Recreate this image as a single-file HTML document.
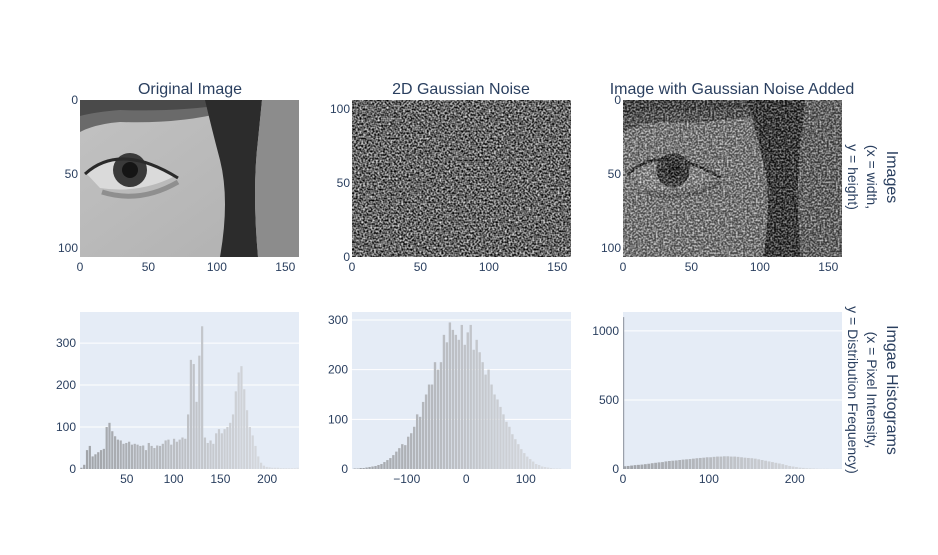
<!DOCTYPE html>
<html><head><meta charset="utf-8">
<style>
body{margin:0;background:#fff;font-family:"Liberation Sans",Arial,sans-serif;}
svg text{font-family:"Liberation Sans",Arial,sans-serif;fill:#2a3f5f;}
</style></head>
<body>
<svg id="fig" width="938" height="550" viewBox="0 0 938 550">
<defs>
  <filter id="grayNoise" x="0" y="0" width="100%" height="100%" color-interpolation-filters="sRGB">
    <feTurbulence type="fractalNoise" baseFrequency="0.55" numOctaves="1" seed="7" result="t"/>
    <feColorMatrix in="t" type="matrix" values="1.7 0 0 0 -0.45  1.7 0 0 0 -0.45  1.7 0 0 0 -0.45  0 0 0 0 1"/>
  </filter>
  <filter id="grayNoise2" x="0" y="0" width="100%" height="100%" color-interpolation-filters="sRGB">
    <feTurbulence type="fractalNoise" baseFrequency="0.55" numOctaves="1" seed="11" result="t"/>
    <feColorMatrix in="t" type="matrix" values="2.2 0 0 0 -0.8  2.2 0 0 0 -0.8  2.2 0 0 0 -0.8  0 0 0 0 1"/>
  </filter>
  <linearGradient id="skin" x1="0" y1="0" x2="1" y2="1">
    <stop offset="0" stop-color="#c2c2c2"/><stop offset="1" stop-color="#b0b0b0"/>
  </linearGradient>
  <g id="eye">
    <rect x="0" y="0" width="219" height="157" fill="url(#skin)"/>
    <path d="M0,0 H150 L145,12 Q100,24 40,22 Q15,24 0,32 Z" fill="#6a6a6a"/>
    <path d="M0,0 H150 L148,4 Q100,12 40,10 Q15,12 0,16 Z" fill="#4a4a4a"/>
    <path d="M125,0 H182 L178,40 Q172,90 178,157 H140 Q150,100 140,60 Q132,30 125,0 Z" fill="#2c2c2c"/>
    <path d="M182,0 H219 V157 H178 Q172,90 178,40 Z" fill="#8c8c8c"/>
    <path d="M5,72 Q40,46 95,76 Q60,94 20,88 Z" fill="#dadada"/>
    <circle cx="50" cy="70" r="17" fill="#3a3a3a"/>
    <circle cx="50" cy="70" r="8" fill="#151515"/>
    <path d="M5,74 Q40,42 98,78" stroke="#2a2a2a" stroke-width="3" fill="none"/>
    <path d="M22,92 Q60,104 98,82" stroke="#8f8f8f" stroke-width="5" fill="none"/>
  </g>
</defs>

<text x="190" y="94" font-size="16" text-anchor="middle">Original Image</text>
<text x="461" y="94" font-size="16" text-anchor="middle">2D Gaussian Noise</text>
<text x="732" y="94" font-size="16" text-anchor="middle">Image with Gaussian Noise Added</text>

<g transform="translate(80,100)"><use href="#eye"/></g>
<g>
  <rect x="352" y="100" width="219" height="157" filter="url(#grayNoise)"/>
</g>
<g>
  <g transform="translate(623,100)"><use href="#eye"/></g>
  <rect x="623" y="100" width="219" height="157" filter="url(#grayNoise2)" opacity="0.6"/>
</g>

<text font-size="16" text-anchor="middle" transform="translate(887,177) rotate(90)">Images</text>
<text font-size="14" text-anchor="middle" transform="translate(867,177) rotate(90)">(x = width,</text>
<text font-size="14" text-anchor="middle" transform="translate(848,177) rotate(90)">y = height)</text>
<text font-size="16" text-anchor="middle" transform="translate(887,390) rotate(90)">Imgae Histograms</text>
<text font-size="14" text-anchor="middle" transform="translate(867,390) rotate(90)">(x = Pixel Intensity,</text>
<text font-size="14" text-anchor="middle" transform="translate(848,390) rotate(90)">y = Distribution Frequency)</text>
</svg>
<script>
// Histogram 1 (original image): bins of width 3 starting at 0
const hist1Values=[3,10,45,55,30,35,40,45,48,100,110,90,78,70,68,60,62,65,58,60,58,55,56,45,62,55,50,56,55,60,68,70,58,72,65,70,75,72,130,260,250,160,270,340,75,62,68,60,85,95,85,95,100,110,130,185,230,245,190,140,100,80,55,30,15,8,5,4,3,3,3,2,2,2,2,2,2,3];
const hist1Start=0, hist1Width=3;
const hist1YTicks=[0,100,200,300];
const hist1XTicks=[50,100,150,200];
// Histogram 2 (noise): bins of width 5 starting at -190
const hist2Values=[1,1,2,2,3,4,5,6,8,10,14,18,22,28,35,42,50,48,65,72,85,110,105,135,150,170,170,215,200,215,270,255,295,280,270,260,290,250,275,290,240,260,235,215,190,200,170,150,140,125,110,95,85,70,60,50,40,32,25,20,15,10,8,5,4,3,2,1,1,1,0,0,0];
const hist2Start=-190, hist2Width=5;
const hist2YTicks=[0,100,200,300];
const hist2XTicks=[-100,0,100];
// Histogram 3 (noisy image): bins of width 4 starting at 0, plus clipped spike at 0
const hist3Values=[20,22,25,28,30,32,35,38,42,45,48,50,55,58,60,62,65,68,70,72,75,78,80,82,85,85,88,90,90,92,92,90,90,88,85,82,80,78,75,70,65,60,55,50,45,40,35,28,22,18,14,10,8,6,5,4,3,2,2,2,1,1,1,1];
const hist3Start=0, hist3Width=4;
const hist3Spike=[1100];
const hist3YTicks=[0,500,1000];
const hist3XTicks=[0,100,200];
const imgXTicks=[0,50,100,150];
const imgYTicks=[0,50,100];

const NS="http://www.w3.org/2000/svg";
const fig=document.getElementById('fig');
function mk(tag,attrs,parent){const e=document.createElementNS(NS,tag);for(const k in attrs)e.setAttribute(k,attrs[k]);(parent||fig).appendChild(e);return e;}
function txt(x,y,s,anchor,name){const t=mk('text',{x:x,y:y,'font-size':12,'text-anchor':anchor});t.textContent=s;


return t;}
function fmt(v){return v<0?'\u2212'+Math.abs(v):String(v);}

[[80,'p1',false],[352,'p2',true],[623,'p3',false]].forEach(([L,p,flip])=>{
  const sx=v=>L+v*219/160;
  imgXTicks.forEach(v=>txt(sx(v),271,fmt(v),'middle',p+'-x-tick'));
  const sy=v=>flip?257-v*157/106:100+v*148/100;
  imgYTicks.forEach(v=>txt(L-2,sy(v)+4,fmt(v),'end',p+'-y-tick'));
});

function hist(L,T,W,H,xmin,xmax,ymax,vals,start,width,yt,xt,name){
  const sx=v=>L+(v-xmin)/(xmax-xmin)*W;
  const sy=v=>T+H-v/ymax*H;
  const bg=mk('rect',{x:L,y:T,width:W,height:H,fill:'#e5ecf6'});
  
  
  yt.forEach(v=>{if(v>0){const g=mk('line',{x1:L,x2:L+W,y1:sy(v),y2:sy(v),stroke:'#fff','stroke-width':1});
    
    }
    txt(L-4,sy(v)+4,fmt(v),'end',name+'-y-tick');});
  xt.forEach(v=>{txt(sx(v),483,fmt(v),'middle',name+'-x-tick');});
  vals.forEach((v,i)=>{
    const x0=start+i*width;
    const f=Math.min(1,Math.max(0,(x0-xmin)/(xmax-xmin)));
    const c=Math.round(165+f*65);
    const r=mk('rect',{x:sx(x0)+0.3,y:sy(v),width:Math.max(0.5,sx(x0+width)-sx(x0)-0.6),height:Math.max(0,T+H-sy(v)),fill:`rgb(${c-6},${c-3},${c+2})`});
    
    
  });
  return {sx,sy};
}
hist(80,312,219,157,0,234,374,hist1Values,hist1Start,hist1Width,hist1YTicks,hist1XTicks,'hist-original');
hist(352,312,219,157,-192,176,316,hist2Values,hist2Start,hist2Width,hist2YTicks,hist2XTicks,'hist-noise');
const h3=hist(623,312,219,157,0,255,1137,hist3Values,hist3Start,hist3Width,hist3YTicks,hist3XTicks,'hist-noisy');
hist3Spike.forEach(v=>{const s=mk('rect',{x:623,y:h3.sy(v),width:1.2,height:469-h3.sy(v),fill:'#9aa0aa'});
  
  });
</script>
</body></html>
